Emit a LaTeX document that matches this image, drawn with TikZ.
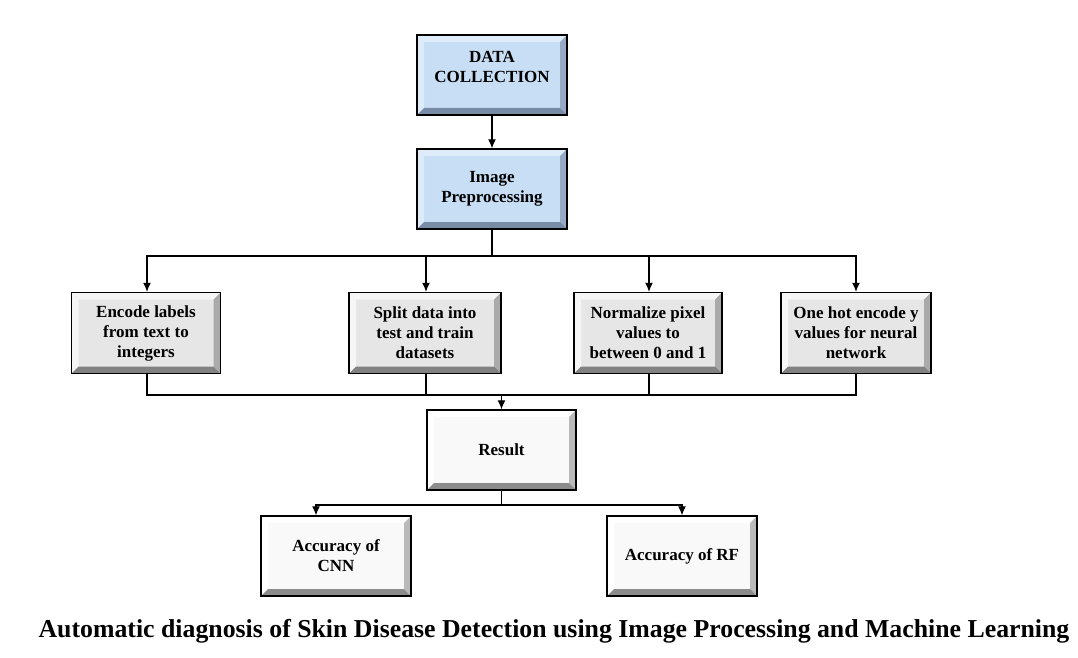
\documentclass[tikz,border=0pt]{standalone}
\usepackage{fontspec}
\setmainfont{Liberation Serif}
\usetikzlibrary{arrows.meta,calc}
\definecolor{blueface}{RGB}{199,222,245}
\definecolor{bluetop}{RGB}{222,236,249}
\definecolor{bluebot}{RGB}{120,140,165}
\definecolor{blueright}{RGB}{150,170,195}
\definecolor{grayface}{RGB}{230,230,230}
\definecolor{graytop}{RGB}{246,246,246}
\definecolor{graybot}{RGB}{130,130,130}
\definecolor{grayright}{RGB}{170,170,170}
\definecolor{whiteface}{RGB}{249,249,249}
\definecolor{whitetop}{RGB}{255,255,255}
\definecolor{whitebot}{RGB}{140,140,140}
\definecolor{whiteright}{RGB}{185,185,185}
\tikzset{
  bevelbox/.style n args={4}{draw=black, line width=1.4pt, fill=#1,
    minimum width=150pt, minimum height=80pt, inner sep=2pt, align=center,
    font=\fontsize{17}{20}\selectfont\bfseries,
    path picture={
      \coordinate (NW) at (path picture bounding box.north west);
      \coordinate (NE) at (path picture bounding box.north east);
      \coordinate (SW) at (path picture bounding box.south west);
      \coordinate (SE) at (path picture bounding box.south east);
      \fill[#2] (NW) -- (NE) -- ([shift={(-7pt,-7pt)}]NE) -- ([shift={(7pt,-7pt)}]NW) -- cycle;
      \fill[#2] (NW) -- (SW) -- ([shift={(7pt,7pt)}]SW) -- ([shift={(7pt,-7pt)}]NW) -- cycle;
      \fill[#4] (NE) -- (SE) -- ([shift={(-7pt,7pt)}]SE) -- ([shift={(-7pt,-7pt)}]NE) -- cycle;
      \fill[#3] (SW) -- (SE) -- ([shift={(-7pt,7pt)}]SE) -- ([shift={(7pt,7pt)}]SW) -- cycle;
    }},
  bluebox/.style={bevelbox={blueface}{bluetop}{bluebot}{blueright}},
  graybox/.style={bevelbox={grayface}{graytop}{graybot}{grayright}},
  whitebox/.style={bevelbox={whiteface}{whitetop}{whitebot}{whiteright}},
  boxtext/.style={align=center, inner sep=0pt, font=\fontsize{17}{20}\selectfont\bfseries},
  conn/.style={line width=1.2pt, draw=black},
  arr/.style={conn, -{Latex[length=9pt,width=8pt]}},
}
\begin{document}
\begin{tikzpicture}[x=1pt,y=-1pt]
\useasboundingbox (0,0) rectangle (1078,658);
\node[bluebox] (dc) at (492,75) {};
\node[boxtext] (dctext) at (492,67) {DATA\\COLLECTION};
\node[bluebox] (ip) at (492,189) {Image\\Preprocessing};
\node[graybox, minimum width=149pt, minimum height=81pt] (e1) at (146,333) {Encode labels\\from text to\\integers};
\node[graybox, minimum width=152pt, minimum height=81pt] (e2) at (425,333) {Split data into\\test and train\\datasets};
\node[graybox, minimum width=148pt, minimum height=81pt] (e3) at (648,333) {Normalize pixel\\values to\\between 0 and 1};
\node[graybox, minimum width=150pt, minimum height=81pt] (e4) at (856,333) {One hot encode y\\values for neural\\network};
\node[whitebox, minimum width=149pt] (res) at (501.5,450) {Result};
\node[whitebox, minimum width=150pt] (cnn) at (336,556) {Accuracy of\\CNN};
\node[whitebox, minimum width=150pt] (rf) at (682,556) {Accuracy of RF};
\node[font=\fontsize{25.8}{30}\selectfont\bfseries, inner sep=0pt] (title) at (554,631) {Automatic diagnosis of Skin Disease Detection using Image Processing and Machine Learning};

\draw[arr] (dc) -- (ip);
\coordinate (b1) at (492,256);
\draw[conn] (ip.south) -- (b1);
\draw[arr] (b1) -| ([xshift=1pt]e1.north);
\draw[arr] (b1) -| ([xshift=1pt]e2.north);
\draw[arr] (b1) -| ([xshift=1pt]e3.north);
\draw[arr] (b1) -| (e4.north);
\coordinate (b2) at (501.5,395);
\draw[conn] ([xshift=1pt]e1.south) |- (b2);
\draw[conn] ([xshift=1pt]e2.south) |- (b2);
\draw[conn] ([xshift=1pt]e3.south) |- (b2);
\draw[conn] (e4.south) |- (b2);
\draw[arr] (b2) -- (res.north);
\coordinate (b3) at (501.5,505);
\draw[conn] (res.south) -- (b3);
\draw[arr] (b3) -| ([xshift=-20pt]cnn.north);
\draw[arr] (b3) -| (rf.north);
\end{tikzpicture}
\end{document}
